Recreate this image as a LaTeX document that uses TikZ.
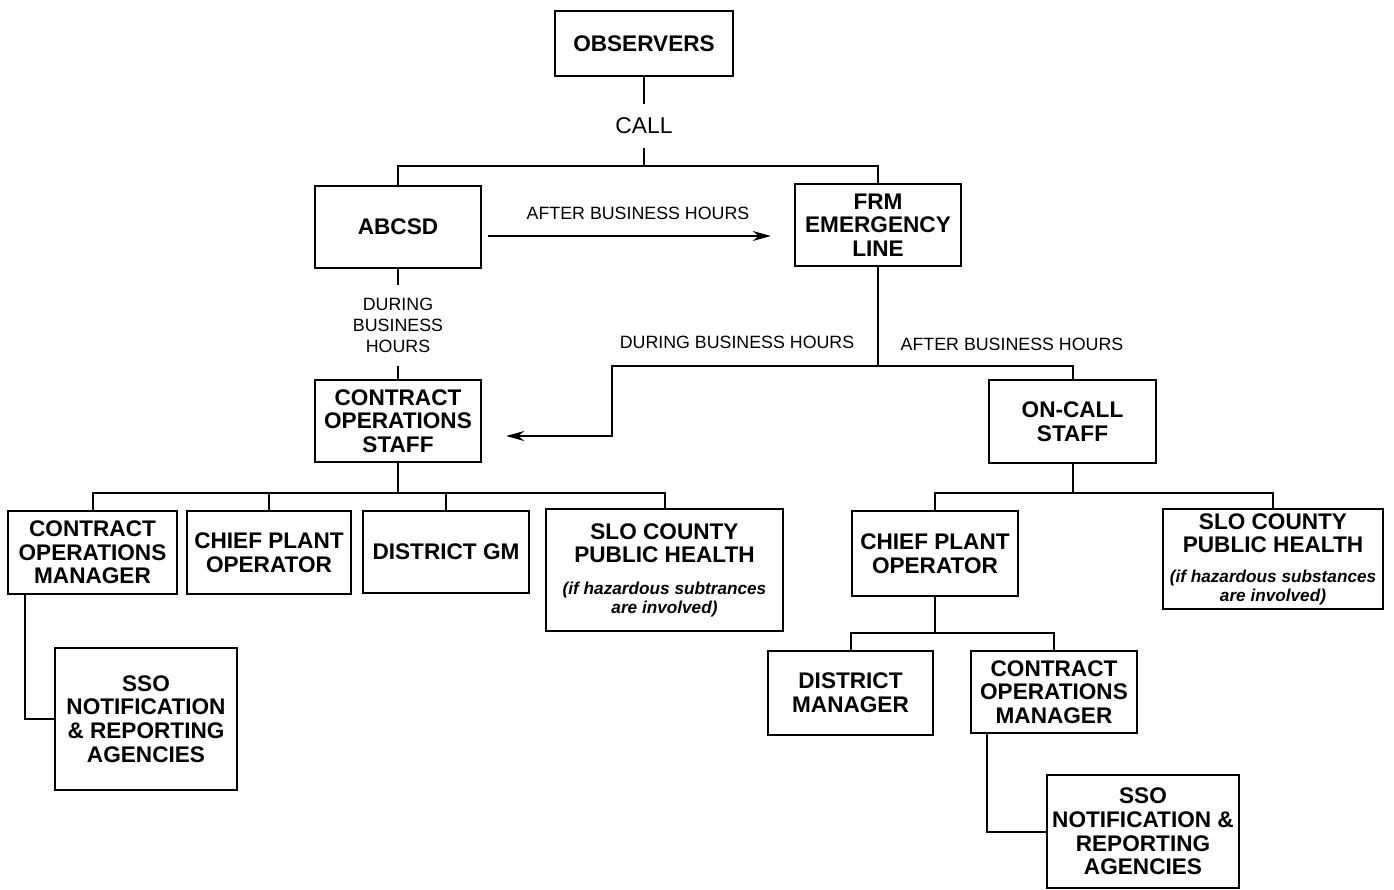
\documentclass[tikz,border=0pt]{standalone}
\usepackage{fontspec}
\setmainfont{Liberation Sans}
\usepackage{tikz}
\usetikzlibrary{positioning}
\usetikzlibrary{arrows.meta}
\newcommand{\hint}[1]{{\bfseries\itshape\fontsize{8.6}{9.4}\selectfont #1}}

\begin{document}
\begin{tikzpicture}[
x=0.5pt, y=-0.5pt,
>={Stealth[length=9pt,width=5pt]},   %Voreinstellung Pfeilspitzen
box/.style 2 args={draw, line width=1.2pt, align=center, inner sep=1pt,
  minimum width=#1, minimum height=#2, font=\bfseries\fontsize{11.3}{11.8}\selectfont},
lbl/.style={align=center, inner sep=0pt, font=\fontsize{8.9}{10.5}\selectfont},
conn/.style={line width=1pt}
]

\useasboundingbox (0,0) rectangle (1394,890);

% oberste Ebene
\node[box={89pt}{32.5pt}] (obs) at (644,43.5) {OBSERVERS};
\node[lbl, font=\fontsize{11.4}{12}\selectfont, minimum height=22pt] (call) at (644,126) {CALL};
\node[box={83pt}{41pt}] (abcsd) at (398,227) {ABCSD};
\node[box={83pt}{41pt}] (frm) at (878,225) {FRM\\EMERGENCY\\LINE};

% Beschriftungen
\node[lbl, minimum height=40.5pt] (dbh1) at (398,325.5) {DURING\\BUSINESS\\HOURS};
\node[lbl] (dbh2) at (737,342) {DURING BUSINESS HOURS};
\node[lbl] (abh2) at (1012,344) {AFTER BUSINESS HOURS};

% zweite Ebene
\node[box={83pt}{41pt}] (cos) at (398,421) {CONTRACT\\OPERATIONS\\STAFF};
\node[box={83.5pt}{41.5pt}] (oncall) at (1072.5,421.5) {ON-CALL\\STAFF};

% links
\node[box={84.5pt}{41.5pt}] (com1) at (92.5,552.5) {CONTRACT\\OPERATIONS\\MANAGER};
\node[box={82pt}{41.5pt}] (cpo1) at (269,552.5) {CHIEF PLANT\\OPERATOR};
\node[box={83pt}{41pt}] (dgm) at (446,552) {DISTRICT GM};
\node[box={118.5pt}{61pt}] (slo1) at (664.5,570) {SLO COUNTY\\PUBLIC HEALTH\\[4pt]\hint{(if hazardous subtrances}\\[-2.5pt]\hint{are involved)}};
\node[box={91pt}{71pt}] (sso1) at (146,719) {SSO\\NOTIFICATION\\\& REPORTING\\AGENCIES};

% rechts
\node[box={83pt}{42.5pt}] (cpo2) at (935,553.5) {CHIEF PLANT\\OPERATOR};
\node[box={110pt}{50pt}] (slo2) at (1273,559) {SLO COUNTY\\PUBLIC HEALTH\\[3pt]\hint{(if hazardous substances}\\[-2.5pt]\hint{are involved)}};
\node[box={82.5pt}{42pt}] (dm) at (850.5,693) {DISTRICT\\MANAGER};
\node[box={83pt}{41pt}] (com2) at (1054,692) {CONTRACT\\OPERATIONS\\MANAGER};
\node[box={96pt}{56.5pt}] (sso2) at (1143,831.5) {SSO\\NOTIFICATION \&\\REPORTING\\AGENCIES};

% Verbindungen oben
\coordinate (callbar) at (644,166);
\draw[conn] (obs) -- (call);
\draw[conn] (call) -- (callbar);
\draw[conn] (callbar) -| (abcsd);
\draw[conn] (callbar) -| (frm);

\draw[conn,->,shorten <=3pt,shorten >=11.5pt] ([yshift=-4.5pt]abcsd.east) -- ([yshift=-4.5pt]abcsd.east -| frm.west)
  node[lbl, midway, above=7.5pt] (abh1) {AFTER BUSINESS HOURS};

\draw[conn] (abcsd) -- (dbh1);
\draw[conn] (dbh1) -- (cos);

% Verzweigung unter FRM
\coordinate (split) at (878,366);
\draw[conn] (frm) -- (split);
\draw[conn,->,shorten >=12pt] (split) -- ++(-266,0) -- ++(0,70) -- ([yshift=-7.5pt]cos.east);
\draw[conn] (split) -| (oncall);

% Balken
\coordinate (bar1) at (398,493);
\draw[conn] (cos) -- (bar1);
\foreach \n in {com1,cpo1,dgm,slo1}
\draw[conn] (bar1) -| (\n);

\coordinate (bar2) at (1072.5,493);
\draw[conn] (oncall) -- (bar2);
\foreach \n in {cpo2,slo2}
\draw[conn] (bar2) -| (\n);

\coordinate (bar3) at (935,633);
\draw[conn] (cpo2) -- (bar3);
\foreach \n in {dm,com2}
\draw[conn] (bar3) -| (\n);

% SSO
\draw[conn] ([xshift=9pt]com1.south west) |- (sso1);
\draw[conn] ([xshift=8.5pt]com2.south west) |- (sso2);

\end{tikzpicture}
\end{document}
